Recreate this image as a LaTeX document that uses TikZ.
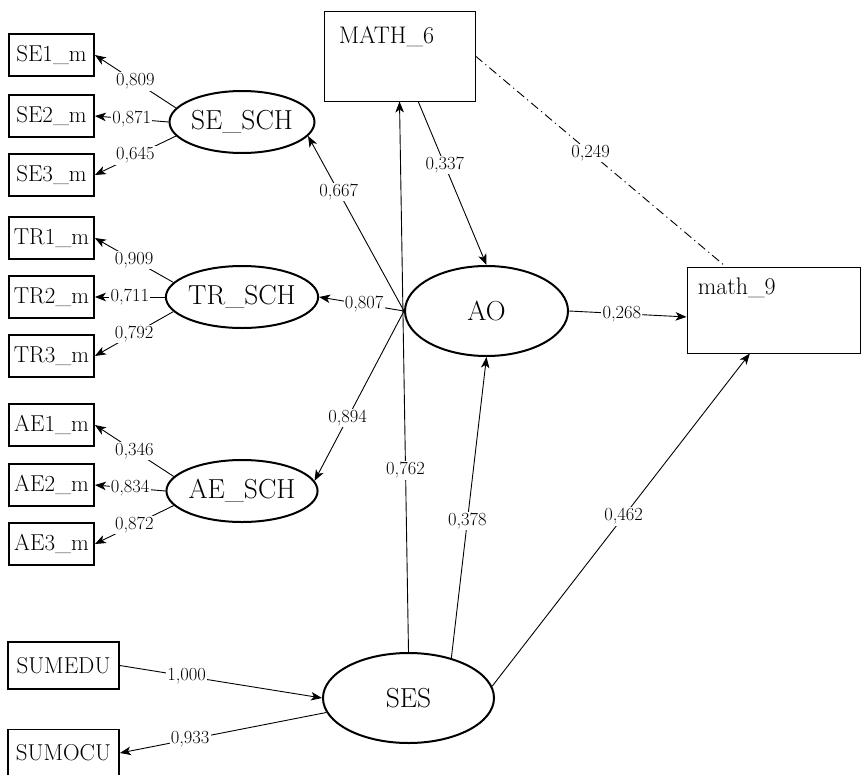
\documentclass[tikz,border=0pt]{standalone}
\usepackage{fontspec}
\usetikzlibrary{shapes.geometric,arrows.meta,calc}
\begin{document}
\begin{tikzpicture}[x=1pt,y=-1pt,
  obs/.style={draw, line width=1.8pt, minimum width=85pt, minimum height=42pt, inner sep=0pt, font=\fontsize{23}{26}\selectfont},
  lat/.style={draw, ellipse, line width=2pt, minimum width=145pt, minimum height=62pt, inner sep=0pt, font=\fontsize{27.5}{31}\selectfont},
  bigbox/.style={draw, line width=0.9pt, inner sep=0pt},
  arr/.style={line width=0.9pt, -{Stealth[length=11pt,width=8.5pt,inset=3pt]}},
  dashdot/.style={line width=0.9pt, dash pattern=on 9pt off 4pt on 1.2pt off 4pt},
  coef/.style={fill=white, inner sep=1.2pt, font=\fontsize{18.5}{21}\selectfont},
  boxlabel/.style={anchor=north west, inner sep=0pt, font=\fontsize{24}{27}\selectfont},
]
\useasboundingbox (0,0) rectangle (862,774);
\clip (0,0) rectangle (862,774);

% observed indicators
\node[obs] (se1) at (51.5,55) {SE1\_m};
\node[obs] (se2) at (51.5,116) {SE2\_m};
\node[obs] (se3) at (51.5,175) {SE3\_m};
\node[obs] (tr1) at (51.5,238) {TR1\_m};
\node[obs] (tr2) at (51.5,297) {TR2\_m};
\node[obs] (tr3) at (51.5,356) {TR3\_m};
\node[obs] (ae1) at (51.5,425) {AE1\_m};
\node[obs] (ae2) at (51.5,485) {AE2\_m};
\node[obs] (ae3) at (51.5,544) {AE3\_m};
\node[obs, minimum width=111pt, minimum height=47pt] (sumedu) at (63.5,665.5) {SUMEDU};
\node[obs, minimum width=111pt, minimum height=47pt] (sumocu) at (63.5,753) {SUMOCU};

% latent variables
\node[lat] (sesch) at (242,122) {SE\_SCH};
\node[lat] (trsch) at (242,297) {TR\_SCH};
\node[lat] (aesch) at (242,491) {AE\_SCH};
\node[lat, minimum width=163pt, minimum height=90pt] (ao) at (486.5,311) {AO};
\node[lat, minimum width=171pt, minimum height=90pt] (ses) at (408.5,698) {SES};

% math scores
\node[bigbox, minimum width=151pt, minimum height=90pt,
  label={[boxlabel, xshift=15pt, yshift=-16pt]north west:{MATH\_6}}] (math6) at (399.5,56) {};
\node[bigbox, minimum width=173pt, minimum height=86pt,
  label={[boxlabel, xshift=11pt, yshift=-11pt]north west:{math\_9}}] (math9) at (773.5,310) {};

% measurement paths
\draw[arr] (sesch.168) -- node[coef]{0,809} (se1.east);
\draw[arr] (sesch.west) -- node[coef]{0,871} (se2.east);
\draw[arr] (sesch.192) -- node[coef]{0,645} (se3.east);
\draw[arr] (trsch.168) -- node[coef]{0,909} (tr1.east);
\draw[arr] (trsch.west) -- node[coef]{0,711} (tr2.east);
\draw[arr] (trsch.192) -- node[coef]{0,792} (tr3.east);
\draw[arr] (aesch.168) -- node[coef]{0,346} (ae1.east);
\draw[arr] (aesch.west) -- node[coef]{0,834} (ae2.east);
\draw[arr] (aesch.192) -- node[coef]{0,872} (ae3.east);

% AO loadings
\draw[arr] (ao.west) -- node[coef, pos=0.68]{0,667} (sesch.-12);
\draw[arr] (ao.west) -- node[coef, pos=0.47]{0,807} (trsch.east);
\draw[arr] (ao.west) -- node[coef, pos=0.63]{0,894} (aesch.8);

% structural paths
\draw[arr] (ses.north) -- node[coef, pos=0.33]{0,762} (math6.south);
\draw[arr] ($(math6.south west)!0.623!(math6.south east)$) -- node[coef, pos=0.39]{0,337} (ao.north);
\draw[dashdot] (math6.east) -- node[coef, pos=0.46]{0,249} ($(math9.north west)!0.225!(math9.north east)$);
\draw[arr] (ao.east) -- node[coef, pos=0.45]{0,268} ($(math9.north west)!0.58!(math9.south west)$);
\draw[arr] (ses.43) -- node[coef, pos=0.455]{0,378} (ao.south);
\draw[arr] (ses.8) -- node[coef, pos=0.51]{0,462} ($(math9.south west)!0.364!(math9.south east)$);
\draw[arr] (sumedu.east) -- node[coef, pos=0.33]{1,000} (ses.west);
\draw[arr] (ses.190) -- node[coef, pos=0.66]{0,933} (sumocu.east);
\end{tikzpicture}
\end{document}
